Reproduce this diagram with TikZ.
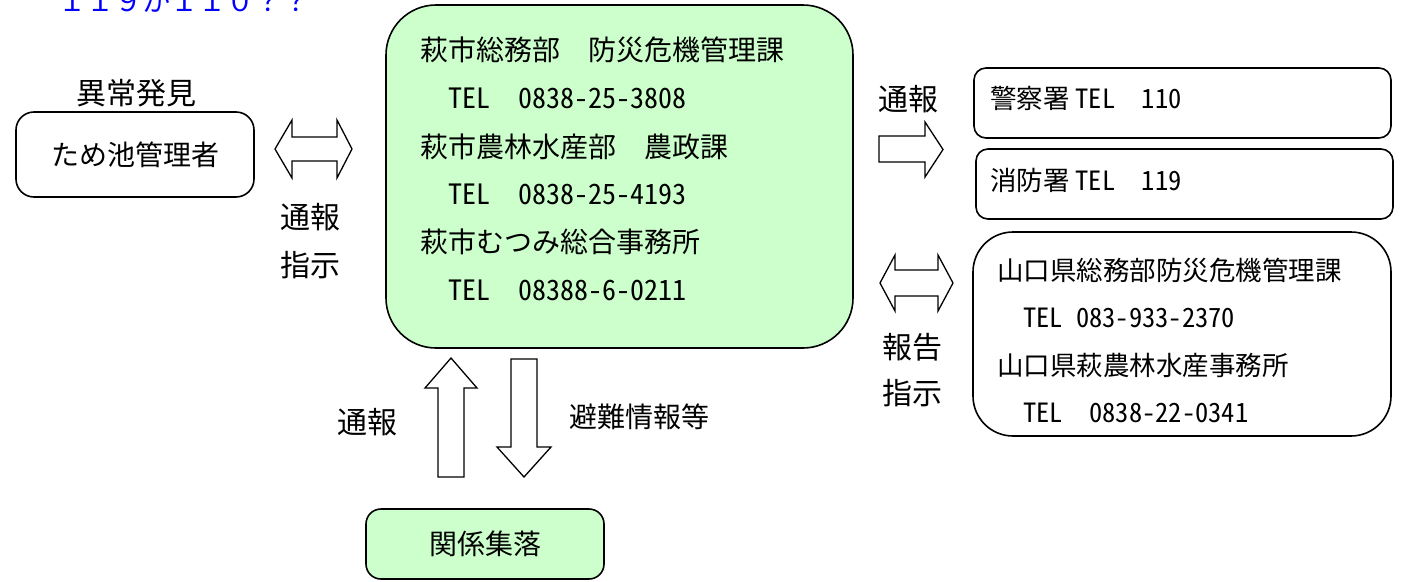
\documentclass[tikz,border=0pt]{standalone}
\usepackage{fontspec}
\setmainfont{Noto Sans CJK JP}
\newfontfamily\hwfont[CharacterWidth=Half]{Noto Sans CJK JP}

\definecolor{paleg}{RGB}{204,255,204}
\definecolor{noteblue}{RGB}{0,0,255}

\tikzset{
  rbox/.style={draw, line width=1.6pt, rounded corners=#1, inner sep=0pt},
  rbox/.default=18pt,
  blk/.style={draw, line width=1.3pt, fill=white, line join=miter},
  ln/.style={anchor=base west, inner sep=0pt},
  big/.style={font=\fontsize{28}{30}\selectfont},
  mid/.style={font=\fontsize{26.5}{28}\selectfont},
  lbl/.style={font=\fontsize{30}{32}\selectfont},
}

\begin{document}
\begin{tikzpicture}[x=1pt,y=-1pt]
\useasboundingbox (0,0) rectangle (1408,581);

% note at the top (cut off by the page)
\node[big, ln, text=noteblue] (note) at (58,11) {１１９か１１０？？};

% pond manager
\node[lbl] (find) at (136,93) {異常発見};
\node[rbox, big, minimum width=238, minimum height=85] (pond) at (135,154.5) {ため池管理者};

\draw[blk] (275,149)--(292,120)--(292,137)--(337,137)--(337,120)--(352,149)
           --(337,178)--(337,161)--(292,161)--(292,178)--cycle;
\node[lbl] (tsuho1) at (310,217) {通報};
\node[lbl] (shiji1) at (310,265) {指示};

% city offices
\node[rbox=50pt, fill=paleg, minimum width=467, minimum height=343] (city) at (619.5,176.5) {};
\node[big, ln] (city1) at (420,60) {萩市総務部　防災危機管理課};
\node[big, ln] (city2) at (448,108) {{\hwfont TEL}　{\hwfont 0838-25-3808}};
\node[big, ln] (city3) at (420,157) {萩市農林水産部　農政課};
\node[big, ln] (city4) at (448,204) {{\hwfont TEL}　{\hwfont 0838-25-4193}};
\node[big, ln] (city5) at (420,252) {萩市むつみ総合事務所};
\node[big, ln] (city6) at (448,300) {{\hwfont TEL}　{\hwfont 08388-6-0211}};

% police and fire
\node[lbl] (tsuho2) at (908,99) {通報};
\draw[blk] (879,136)--(925,136)--(925,122)--(943,149.5)--(925,177)--(925,162)--(879,162)--cycle;

\node[rbox=12pt, minimum width=417, minimum height=70] (police) at (1182.5,103) {};
\node[mid, ln] (policetxt) at (990,108) {警察署 {\hwfont TEL}　{\hwfont 110}};
\node[rbox=12pt, minimum width=417, minimum height=70] (fire) at (1184.5,184) {};
\node[mid, ln] (firetxt) at (990,190) {消防署 {\hwfont TEL}　{\hwfont 119}};

% prefecture
\draw[blk] (880,283)--(895,255)--(895,270)--(938,270)--(938,255)--(953,283)
           --(938,311)--(938,296)--(895,296)--(895,311)--cycle;
\node[lbl] (hokoku) at (912,347) {報告};
\node[lbl] (shiji2) at (912,393) {指示};

\node[rbox=40pt, minimum width=418, minimum height=204] (pref) at (1182,334) {};
\node[mid, ln] (pref1) at (997,280) {山口県総務部防災危機管理課};
\node[mid, ln] (pref2) at (1023,327) {\hwfont TEL 083-933-2370};
\node[mid, ln] (pref3) at (997,375) {山口県萩農林水産事務所};
\node[mid, ln] (pref4) at (1023,422) {{\hwfont TEL}　{\hwfont 0838-22-0341}};

% villages
\draw[blk] (451,358)--(477,388)--(464,388)--(464,477)--(438,477)--(438,388)--(425,388)--cycle;
\draw[blk] (524,477)--(551,447)--(537,447)--(537,359)--(511,359)--(511,447)--(497,447)--cycle;
\node[lbl] (tsuho3) at (367,422) {通報};
\node[big] (hinan) at (639,417) {避難情報等};

\node[rbox=15pt, big, fill=paleg, minimum width=238, minimum height=70] (village) at (485,544) {関係集落};

\end{tikzpicture}
\end{document}
